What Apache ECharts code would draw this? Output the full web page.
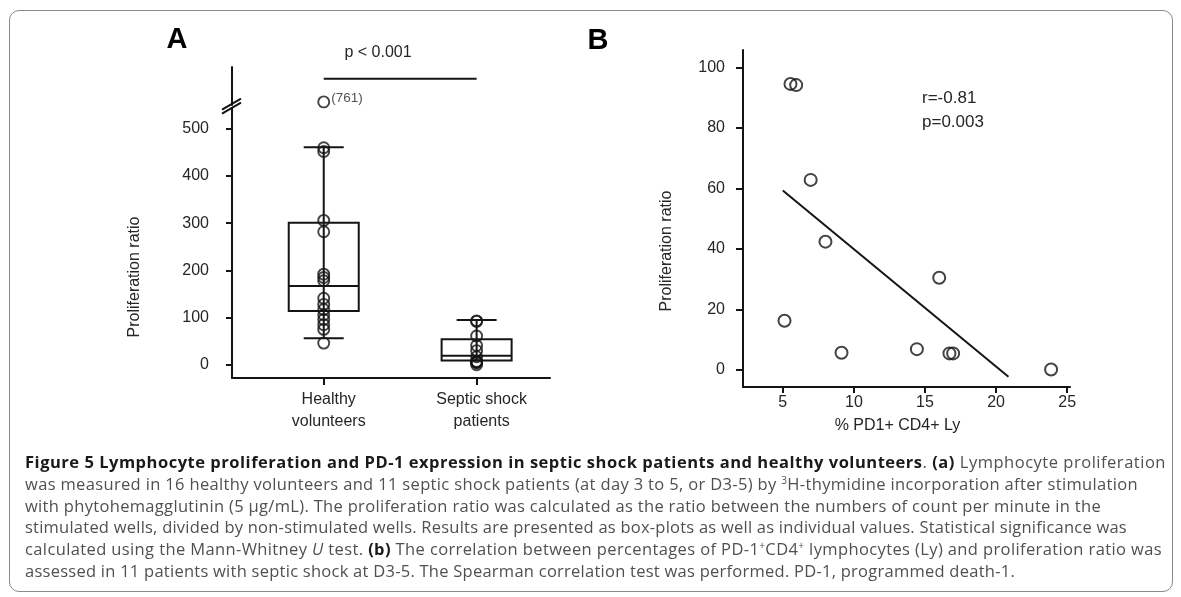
<!DOCTYPE html>
<html><head><meta charset="utf-8">
<script src="https://cdn.jsdelivr.net/npm/echarts@6/dist/echarts.min.js"></script>
<style>
html,body{margin:0;padding:0;background:#fff;}
#chart{position:absolute;left:0;top:0;width:1181px;height:597px;}
#frame{position:absolute;left:9px;top:10px;width:1164px;height:582px;border:1.5px solid #8a8a8a;border-radius:10px;box-sizing:border-box;pointer-events:none;}
#caption{position:absolute;left:25px;top:451px;font-family:'Open Sans',sans-serif;font-size:16.5px;color:#505050;line-height:21.8px;}
#caption div{white-space:nowrap;}
#caption b{color:#1a1a1a;font-weight:700;}
#caption sup{font-size:10px;line-height:0;vertical-align:6px;}
</style></head>
<body>
<div id="chart"></div>
<div id="frame"></div>
<div id="caption">
<div><span><b>Figure 5 Lymphocyte proliferation and PD-1 expression in septic shock patients and healthy volunteers</b>. <b>(a)</b> Lymphocyte proliferation</span></div>
<div><span>was measured in 16 healthy volunteers and 11 septic shock patients (at day 3 to 5, or D3-5) by <sup>3</sup>H-thymidine incorporation after stimulation</span></div>
<div><span>with phytohemagglutinin (5 µg/mL). The proliferation ratio was calculated as the ratio between the numbers of count per minute in the</span></div>
<div><span>stimulated wells, divided by non-stimulated wells. Results are presented as box-plots as well as individual values. Statistical significance was</span></div>
<div><span>calculated using the Mann-Whitney <i>U</i> test. <b>(b)</b> The correlation between percentages of PD-1<sup>+</sup>CD4<sup>+</sup> lymphocytes (Ly) and proliferation ratio was</span></div>
<div><span>assessed in 11 patients with septic shock at D3-5. The Spearman correlation test was performed. PD-1, programmed death-1.</span></div>
</div>
<script>
// ---------- Panel A data ----------
const categoriesA = ['Healthy\nvolunteers', 'Septic shock\npatients'];
const categoryPosA = [1, 2];
const boxLowA  = [56, 9];
const boxQ1A   = [114, 9];
const boxMedA  = [167, 19];
const boxQ3A   = [301, 54];
const boxHighA = [461, 95];
const healthyValues = [761, 460, 452, 306, 282, 192, 185, 178, 141, 128, 117, 106, 96, 85, 75, 46];
const septicValues  = [93, 92, 61, 41, 30, 17, 7, 6, 5, 5, 0];
const yTicksA = [0, 100, 200, 300, 400, 500];
const yBreakA = [545, 755];
const sigBarValueA = 810;
const sigTextA = 'p < 0.001';

// ---------- Panel B data ----------
const xTicksB = [5, 10, 15, 20, 25];
const yTicksB = [0, 20, 40, 60, 80, 100];
const pd1Pct      = [5.54, 5.94, 6.96, 8.0, 5.12, 9.13, 14.43, 16.0, 16.72, 16.98, 23.87];
const prolifRatio = [94.5, 94.1, 62.8, 42.4, 16.3, 5.7, 6.9, 30.5, 5.5, 5.5, 0.2];
const fitX = [5.0, 20.87];
const fitY = [59.3, -2.2];
const statTextB = ['r=-0.81', 'p=0.003'];

// caption line right edges (layout)
const captionRight = [1166, 1138, 1101, 1127, 1162, 1015];

const INK = '#141414';
const TXT = '#262626';
const FONT = 'Liberation Sans, Arial, sans-serif';
const chart = echarts.init(document.getElementById('chart'), null, {renderer: 'canvas'});

const boxData = categoryPosA.map((x, i) => [x, boxLowA[i], boxQ1A[i], boxMedA[i], boxQ3A[i], boxHighA[i]]);
const labelMap = {}; categoryPosA.forEach((p, i) => labelMap[p] = categoriesA[i]);

const pointsA = [];
healthyValues.forEach(v => pointsA.push(v > yBreakA[1]
  ? {value: [categoryPosA[0], v], label: {show: true, position: 'right', distance: 1, offset: [0, -4],
      formatter: p => '(' + p.value[1] + ')', color: TXT, fontSize: 13.5, fontFamily: FONT}}
  : {value: [categoryPosA[0], v]}));
septicValues.forEach(v => pointsA.push({value: [categoryPosA[1], v]}));

const lineStyle = {color: INK, width: 2};

chart.setOption({
  animation: false,
  backgroundColor: '#fff',
  grid: [
    {left: 232, top: 67, width: 318, height: 311},
    {left: 743, top: 50, width: 327, height: 337}
  ],
  xAxis: [
    {gridIndex: 0, type: 'value', min: 0.4, max: 2.48,
     axisLine: {show: true, onZero: false, lineStyle},
     axisTick: {show: true, length: 7, customValues: categoryPosA, lineStyle},
     axisLabel: {customValues: categoryPosA, formatter: v => labelMap[v] || '', margin: 11,
       color: TXT, fontSize: 16, fontFamily: FONT, lineHeight: 22, padding: [0, 0, 0, 10]},
     splitLine: {show: false}},
    {gridIndex: 1, type: 'value', min: 2.2, max: 25.2,
     axisLine: {show: true, onZero: false, lineStyle},
     axisTick: {show: true, length: 6, customValues: xTicksB, lineStyle},
     axisLabel: {customValues: xTicksB, margin: 8, color: TXT, fontSize: 16, fontFamily: FONT},
     splitLine: {show: false},
     name: '% PD1+ CD4+ Ly', nameLocation: 'middle', nameGap: 31,
     nameTextStyle: {color: TXT, fontSize: 16, fontFamily: FONT, padding: [0, 18, 0, 0]}}
  ],
  yAxis: [
    {gridIndex: 0, type: 'value', min: -28, max: 835,
     breaks: [{start: yBreakA[0], end: yBreakA[1], gap: 6}],
     breakArea: {show: false, itemStyle: {color: 'rgba(0,0,0,0)', borderColor: 'rgba(0,0,0,0)', opacity: 0}},
     axisLine: {show: true, onZero: false, lineStyle},
     axisTick: {show: true, length: 6, customValues: yTicksA, lineStyle},
     axisLabel: {customValues: yTicksA, margin: 23, color: TXT, fontSize: 16, fontFamily: FONT},
     splitLine: {show: false}},
    {gridIndex: 1, type: 'value', min: -5.6, max: 105.7,
     axisLine: {show: true, onZero: false, lineStyle},
     axisTick: {show: true, length: 7, customValues: yTicksB, lineStyle},
     axisLabel: {customValues: yTicksB, margin: 18, color: TXT, fontSize: 16, fontFamily: FONT},
     splitLine: {show: false}}
  ],
  series: [
    {type: 'custom', xAxisIndex: 0, yAxisIndex: 0, data: boxData, z: 2,
     encode: {x: 0, y: [1, 2, 3, 4, 5]},
     renderItem: (params, api) => {
       const x = api.value(0);
       const c = k => api.coord([x, api.value(k)]);
       const low = c(1), q1 = c(2), med = c(3), q3 = c(4), high = c(5);
       const cx = low[0], bw = 70, cw = 40;
       const st = {stroke: INK, lineWidth: 2, fill: null};
       const ch = [
         {type: 'line', shape: {x1: cx, y1: high[1], x2: cx, y2: low[1]}, style: st},
         {type: 'rect', shape: {x: cx - bw / 2, y: q3[1], width: bw, height: q1[1] - q3[1]}, style: st},
         {type: 'line', shape: {x1: cx - bw / 2, y1: med[1], x2: cx + bw / 2, y2: med[1]}, style: st},
         {type: 'line', shape: {x1: cx - cw / 2, y1: high[1], x2: cx + cw / 2, y2: high[1]}, style: st}
       ];
       if (api.value(1) < api.value(2)) ch.push({type: 'line', shape: {x1: cx - cw / 2, y1: low[1], x2: cx + cw / 2, y2: low[1]}, style: st});
       return {type: 'group', children: ch};
     }},
    {type: 'scatter', xAxisIndex: 0, yAxisIndex: 0, data: pointsA, symbol: 'circle', symbolSize: 11, z: 3,
     itemStyle: {color: 'rgba(0,0,0,0)', borderColor: INK, borderWidth: 1.9}},
    {type: 'line', xAxisIndex: 0, yAxisIndex: 0, data: [[categoryPosA[0], sigBarValueA], [categoryPosA[1], sigBarValueA]],
     symbol: 'none', lineStyle: {color: INK, width: 2}},
    {type: 'custom', xAxisIndex: 0, yAxisIndex: 0, data: [[0.4, yBreakA[0]]], z: 5, clip: false,
     renderItem: (params, api) => {
       const p = api.coord([api.value(0), api.value(1)]);
       const st = {stroke: INK, lineWidth: 2};
       return {type: 'group', children: [
         {type: 'line', shape: {x1: p[0] - 10, y1: p[1] + 6, x2: p[0] + 9, y2: p[1] - 5}, style: st},
         {type: 'line', shape: {x1: p[0] - 10, y1: p[1] + 2, x2: p[0] + 9, y2: p[1] - 9}, style: st}
       ]};
     }},
    {type: 'scatter', xAxisIndex: 1, yAxisIndex: 1, data: pd1Pct.map((x, i) => [x, prolifRatio[i]]),
     symbol: 'circle', symbolSize: 12, z: 3,
     itemStyle: {color: 'rgba(0,0,0,0)', borderColor: INK, borderWidth: 2}},
    {type: 'line', xAxisIndex: 1, yAxisIndex: 1, data: fitX.map((x, i) => [x, fitY[i]]),
     symbol: 'none', lineStyle: {color: INK, width: 2}}
  ],
  graphic: [
    {type: 'text', x: 177, y: 40, style: {text: 'A', font: 'bold 29px ' + FONT, fill: '#000', textAlign: 'center', textVerticalAlign: 'middle'}},
    {type: 'text', x: 598, y: 41, style: {text: 'B', font: 'bold 29px ' + FONT, fill: '#000', textAlign: 'center', textVerticalAlign: 'middle'}},
    {type: 'text', x: 378, y: 53, style: {text: sigTextA, font: '16px ' + FONT, fill: TXT, textAlign: 'center', textVerticalAlign: 'middle'}},
    {type: 'text', x: 135, y: 277, rotation: Math.PI / 2, style: {text: 'Proliferation ratio', font: '16px ' + FONT, fill: TXT, textAlign: 'center', textVerticalAlign: 'middle'}},
    {type: 'text', x: 667, y: 251, rotation: Math.PI / 2, style: {text: 'Proliferation ratio', font: '16px ' + FONT, fill: TXT, textAlign: 'center', textVerticalAlign: 'middle'}},
    {type: 'text', x: 922, y: 98, style: {text: statTextB[0], font: '17px ' + FONT, fill: TXT, textAlign: 'left', textVerticalAlign: 'middle'}},
    {type: 'text', x: 922, y: 122, style: {text: statTextB[1], font: '17px ' + FONT, fill: TXT, textAlign: 'left', textVerticalAlign: 'middle'}}
  ]
});

function fitCaption() {
  const capLeft = document.getElementById('caption').getBoundingClientRect().left;
  document.querySelectorAll('#caption span').forEach((s, i) => {
    s.style.letterSpacing = '0px';
    const w = s.getBoundingClientRect().width;
    const n = s.textContent.length;
    const target = captionRight[i] - capLeft;
    s.style.letterSpacing = ((target - w) / n).toFixed(3) + 'px';
  });
}
fitCaption();
if (document.fonts && document.fonts.ready) document.fonts.ready.then(fitCaption);
</script>
</body></html>
